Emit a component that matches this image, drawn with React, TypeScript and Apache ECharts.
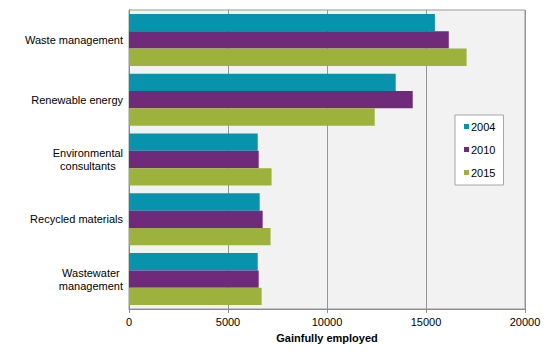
import React, { useEffect, useRef } from "react";
import * as echarts from "echarts";

const categories = [
  "Waste management",
  "Renewable energy",
  "Environmental\nconsultants",
  "Recycled materials",
  "Wastewater\nmanagement",
];
const years = ["2004", "2010", "2015"];
const values2004 = [15450, 13470, 6500, 6600, 6500];
const values2010 = [16150, 14330, 6550, 6750, 6550];
const values2015 = [17050, 12410, 7200, 7150, 6700];
const colors = ["#0893ac", "#6f2a7a", "#9cb23d"];
const xTicks = [0, 5000, 10000, 15000, 20000];

export default function App() {
  const ref = useRef<HTMLDivElement>(null);
  useEffect(() => {
    document.body.style.margin = "0";
    if (!ref.current) return;
    const chart = echarts.init(ref.current, undefined, { renderer: "svg" });
    const font = "'Liberation Sans', Arial, sans-serif";
    const seriesData = [values2004, values2010, values2015];
    chart.setOption({
      animation: false,
      textStyle: { fontFamily: font },
      grid: {
        left: 129,
        right: 35,
        top: 10,
        bottom: 49,
        show: true,
        backgroundColor: "#f2f2f2",
        borderColor: "#999999",
        borderWidth: 1,
      },
      legend: {
        data: years,
        orient: "vertical",
        left: 455,
        top: 115,
        padding: [6, 8, 7, 9],
        borderColor: "#a6a6a6",
        borderWidth: 1,
        backgroundColor: "#ffffff",
        itemWidth: 5,
        itemHeight: 5,
        itemGap: 12,
        icon: "rect",
        textStyle: { fontFamily: font, fontSize: 11, color: "#000", padding: [0, 0, 0, -3] },
      },
      xAxis: {
        type: "value",
        min: xTicks[0],
        max: xTicks[xTicks.length - 1],
        interval: 5000,
        name: "Gainfully employed",
        nameLocation: "middle",
        nameGap: 23,
        nameTextStyle: { fontFamily: font, fontSize: 11, fontWeight: "bold", color: "#000" },
        axisLine: { show: true, lineStyle: { color: "#8c8c8c" } },
        axisTick: { show: true, length: 4, lineStyle: { color: "#8c8c8c" } },
        axisLabel: {
          fontFamily: font,
          fontSize: 11,
          color: "#000",
          margin: 7,
          formatter: (v: number) => String(v),
        },
        splitLine: { show: true, lineStyle: { color: "#959595", width: 1 } },
      },
      yAxis: {
        type: "category",
        data: categories,
        inverse: true,
        axisLine: { show: true, lineStyle: { color: "#8c8c8c" } },
        axisTick: { show: false },
        axisLabel: {
          fontFamily: font,
          fontSize: 11,
          color: "#000",
          margin: 6,
          lineHeight: 13,
          align: "right",
          formatter: (v: string) =>
            v
              .split("\n")
              .map((s) => `{c|${s}}`)
              .join("\n"),
          rich: {
            c: { align: "center", fontFamily: font, fontSize: 11, color: "#000", lineHeight: 13 },
          },
        },
      },
      series: years.map((y, i) => ({
        name: y,
        type: "bar",
        data: seriesData[i],
        itemStyle: { color: colors[i] },
        barGap: "0%",
        barCategoryGap: "13%",
      })),
    });
    return () => chart.dispose();
  }, []);
  return <div ref={ref} style={{ width: 560, height: 358 }} />;
}
